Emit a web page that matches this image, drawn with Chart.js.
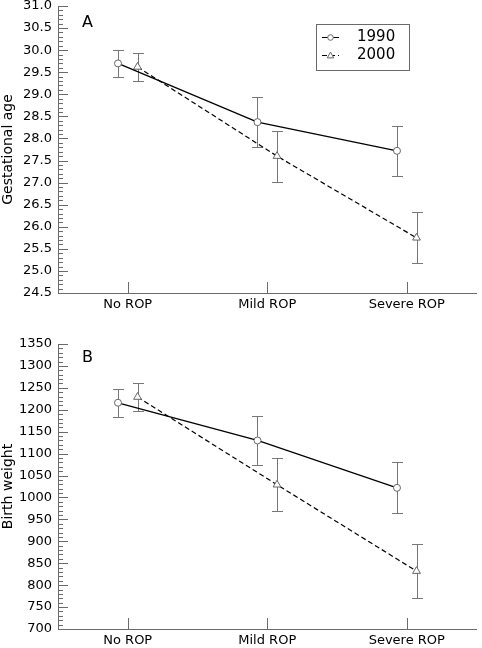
<!DOCTYPE html>
<html>
<head>
<meta charset="utf-8">
<script src="https://cdn.jsdelivr.net/npm/chart.js@4/dist/chart.umd.min.js"></script>
<style>
body { margin: 0; background: #fff; }
canvas { position: absolute; left: 0; }
#chartA { top: 0; }
#chartB { top: 320px; }
</style>
</head>
<body>
<canvas id="chartA" width="482" height="320"></canvas>
<canvas id="chartB" width="482" height="328"></canvas>
<script>
const categories = ['No ROP', 'Mild ROP', 'Severe ROP'];
const seriesLabels = ['1990', '2000'];

// panel A: gestational age (mean, error)
const gaMean1990 = [29.70, 28.37, 27.72];
const gaErr1990 = [0.31, 0.56, 0.56];
const gaMean2000 = [29.62, 27.60, 25.75];
const gaErr2000 = [0.31, 0.58, 0.58];

// panel B: birth weight (mean, error)
const bwMean1990 = [1216, 1130, 1022];
const bwErr1990 = [32, 56, 58];
const bwMean2000 = [1229, 1029, 832];
const bwErr2000 = [32, 60, 61];

const FONT = 'DejaVu Sans';
const AXIS = '#6a6a6a';

function buildDatasets(m90, e90, m00, e00) {
    return [
        {
            label: seriesLabels[0],
            data: categories.map((c, i) => ({ x: i + 1 - 0.07, y: m90[i] })),
            errors: e90,
            borderColor: '#000',
            borderWidth: 1.3,
            pointStyle: 'circle',
            pointRadius: 3.5,
            pointBorderColor: '#666',
            pointBackgroundColor: '#fff',
            pointBorderWidth: 1
        },
        {
            label: seriesLabels[1],
            data: categories.map((c, i) => ({ x: i + 1 + 0.07, y: m00[i] })),
            errors: e00,
            borderColor: '#000',
            borderWidth: 1.2,
            borderDash: [5, 3],
            pointStyle: 'triangle',
            pointRadius: 4.5,
            pointBorderColor: '#666',
            pointBackgroundColor: '#fff',
            pointBorderWidth: 1
        }
    ];
}

function drawMarker(ctx, style, x, y, r) {
    ctx.beginPath();
    if (style === 'circle') {
        ctx.arc(x, y, r, 0, Math.PI * 2);
    } else {
        ctx.moveTo(x, y - r);
        ctx.lineTo(x + r * 0.95, y + r * 0.7);
        ctx.lineTo(x - r * 0.95, y + r * 0.7);
        ctx.closePath();
    }
    ctx.fill();
    ctx.stroke();
}

// one plugin per panel, settings kept in the closure
function makeDecor(d) {
    return {
        id: 'decor',
        beforeDatasetsDraw(chart) {
            const ctx = chart.ctx;
            const ys = chart.scales.y;
            ctx.save();
            ctx.lineWidth = 1;
            ctx.strokeStyle = '#777';
            chart.data.datasets.forEach((ds, di) => {
                const meta = chart.getDatasetMeta(di);
                meta.data.forEach((el, i) => {
                    const v = ds.data[i].y;
                    const e = ds.errors[i];
                    const x = Math.round(el.x) + 0.5;
                    const yt = Math.round(ys.getPixelForValue(v + e)) + 0.5;
                    const yb = Math.round(ys.getPixelForValue(v - e)) + 0.5;
                    ctx.beginPath();
                    ctx.moveTo(x, yt); ctx.lineTo(x, yb);
                    ctx.moveTo(x - 5.5, yt); ctx.lineTo(x + 5.5, yt);
                    ctx.moveTo(x - 5.5, yb); ctx.lineTo(x + 5.5, yb);
                    ctx.stroke();
                });
            });
            ctx.restore();
        },
        afterDraw(chart) {
            const ctx = chart.ctx;
            const o = chart.chartArea;
            const xs = chart.scales.x;
            const ys = chart.scales.y;
            ctx.save();
            ctx.strokeStyle = AXIS;
            ctx.lineWidth = 1;
            ctx.setLineDash([]);
            // inward ticks on y (major + minor)
            const n = Math.round((d.yMax - d.yMin) / d.minor);
            for (let i = 0; i <= n; i++) {
                const v = d.yMin + i * d.minor;
                const r = v / d.major;
                const major = Math.abs(r - Math.round(r)) < 1e-6;
                const py = Math.round(ys.getPixelForValue(v)) + 0.5;
                ctx.beginPath();
                ctx.moveTo(o.left, py);
                ctx.lineTo(o.left + (major ? 10 : 5), py);
                ctx.stroke();
            }
            // inward ticks on x at the categories
            categories.forEach((c, i) => {
                const px = Math.round(xs.getPixelForValue(i + 1)) + 0.5;
                ctx.beginPath();
                ctx.moveTo(px, o.bottom);
                ctx.lineTo(px, o.bottom - 11);
                ctx.stroke();
            });

            ctx.fillStyle = '#000';
            ctx.font = '16px ' + FONT;
            ctx.textBaseline = 'middle';
            ctx.textAlign = 'left';
            ctx.fillText(d.letter, o.left + 24, o.top + d.letterY);
            if (d.legend) {
                const bx = o.left + 258, by = o.top + 18, bw = 93, bh = 46;
                ctx.strokeStyle = AXIS;
                ctx.strokeRect(bx + 0.5, by + 0.5, bw, bh);
                ctx.font = '15px ' + FONT;
                chart.data.datasets.forEach((ds, i) => {
                    const y = Math.round(by + 12.7 + i * 18.3) + 0.5;
                    ctx.strokeStyle = '#000';
                    ctx.setLineDash(ds.borderDash || []);
                    ctx.beginPath();
                    ctx.moveTo(bx + 6, y);
                    ctx.lineTo(bx + 23, y);
                    ctx.stroke();
                    ctx.setLineDash([]);
                    ctx.strokeStyle = '#666';
                    ctx.fillStyle = '#fff';
                    drawMarker(ctx, ds.pointStyle, bx + 14.5, y, ds.pointStyle === 'circle' ? 2.8 : 3.4);
                    ctx.fillStyle = '#000';
                    ctx.fillText(ds.label, bx + 41, y);
                });
            }
            ctx.restore();
        }
    };
}

function makeChart(id, cfg) {
    const ctx = document.getElementById(id).getContext('2d');
    return new Chart(ctx, {
        type: 'line',
        data: { datasets: cfg.datasets },
        plugins: [makeDecor(cfg)],
        options: {
            responsive: false,
            animation: false,
            layout: { padding: { top: cfg.padTop, right: 2, left: 0, bottom: 0 } },
            elements: { line: { tension: 0 } },
            plugins: {
                legend: { display: false },
                tooltip: { enabled: false }
            },
            scales: {
                x: {
                    type: 'linear',
                    min: 0.5,
                    max: 3.5,
                    grid: { display: false, drawTicks: false },
                    border: { color: AXIS, width: 1 },
                    afterBuildTicks: (s) => {
                        s.ticks = categories.map((c, i) => ({ value: i + 1 }));
                    },
                    ticks: {
                        callback: (v) => categories[v - 1],
                        font: { family: FONT, size: 13 },
                        color: '#000',
                        padding: 4,
                        maxRotation: 0,
                        autoSkip: false
                    },
                    afterFit: (s) => {
                        s.height = cfg.xHeight;
                        s.paddingLeft = 0;
                        s.paddingRight = 0;
                    }
                },
                y: {
                    min: cfg.yMin,
                    max: cfg.yMax,
                    grid: { display: false, drawTicks: false },
                    border: { color: AXIS, width: 1 },
                    title: {
                        display: true,
                        text: cfg.yTitle,
                        font: { family: FONT, size: 14 },
                        color: '#000',
                        padding: 0
                    },
                    ticks: {
                        stepSize: cfg.yStep,
                        callback: (v) => v.toFixed(cfg.decimals),
                        font: { family: FONT, size: 13 },
                        color: '#000',
                        padding: 6,
                        autoSkip: false
                    },
                    afterFit: (s) => {
                        s.width = 58;
                        s.paddingTop = 0;
                        s.paddingBottom = 0;
                    }
                }
            }
        }
    });
}

makeChart('chartA', {
    datasets: buildDatasets(gaMean1990, gaErr1990, gaMean2000, gaErr2000),
    padTop: 6,
    xHeight: 27,
    yMin: 24.5,
    yMax: 31,
    yStep: 0.5,
    decimals: 1,
    yTitle: 'Gestational age',
    letter: 'A', letterY: 17, minor: 0.1, major: 0.5, legend: true
});

makeChart('chartB', {
    datasets: buildDatasets(bwMean1990, bwErr1990, bwMean2000, bwErr2000),
    padTop: 24,
    xHeight: 19,
    yMin: 700,
    yMax: 1350,
    yStep: 50,
    decimals: 0,
    yTitle: 'Birth weight',
    letter: 'B', letterY: 14, minor: 10, major: 50, legend: false
});
</script>
</body>
</html>
